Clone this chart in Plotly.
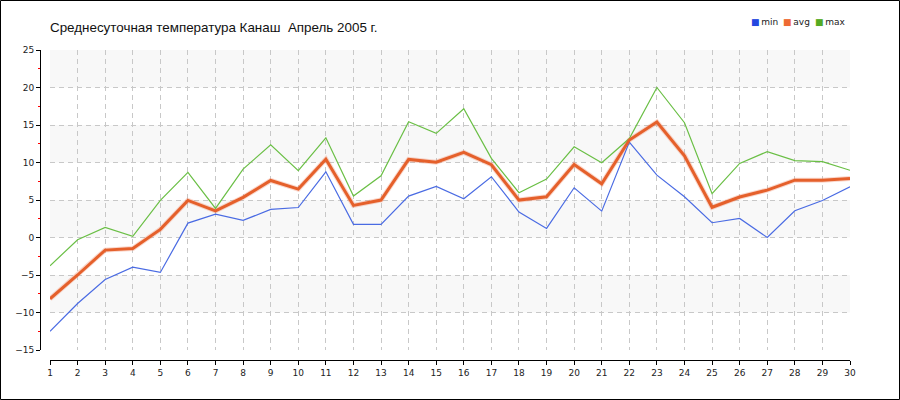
import plotly.graph_objects as go

# ---- data ----
days = list(range(1, 31))
t_min = [-12.5, -8.8, -5.6, -3.95, -4.66, 1.92, 3.12, 2.28, 3.75, 4.0,
         8.76, 1.75, 1.75, 5.52, 6.81, 5.16, 8.1, 3.39, 1.21, 6.63,
         3.52, 12.72, 8.32, 5.43, 1.97, 2.54, 0.0, 3.56, 4.94, 6.77]
t_avg = [-8.17, -5.0, -1.68, -1.46, 1.08, 4.95, 3.56, 5.35, 7.6, 6.45,
         10.45, 4.28, 4.99, 10.41, 10.05, 11.34, 9.7, 4.99, 5.43, 9.74,
         7.16, 13.0, 15.39, 10.9, 4.03, 5.4, 6.32, 7.65, 7.65, 7.87]
t_max = [-3.77, -0.3, 1.35, 0.15, 4.95, 8.68, 3.88, 9.12, 12.36, 8.9,
         13.3, 5.52, 8.23, 15.43, 13.88, 17.16, 10.55, 5.97, 7.79, 12.1,
         9.96, 13.2, 20.0, 15.3, 5.85, 9.88, 11.45, 10.25, 10.12, 8.96]
series_names = ["min", "avg", "max"]
y_ticks = [-15, -10, -5, 0, 5, 10, 15, 20, 25]
title_text = "Среднесуточная температура Канаш \u00a0Апрель 2005 г."

# ---- layout geometry ----
W, H = 900, 400
ML, MR, MT, MB = 40, 50, 50, 40
PW = W - ML - MR
PH = H - MT - MB
OFF = 10  # axis offset in px


def px_x(p):
    return (p - ML) / PW


def px_y(p):
    return (H - MB - p) / PH


c_min, c_avg, c_max = "#4A6BE3", "#E5602B", "#6ABF45"
leg_cols = ["#2447E0", "#EE6A33", "#55AA22"]

fig = go.Figure()

# avg halo
fig.add_trace(go.Scatter(x=days, y=t_avg, mode="lines", showlegend=False,
                         hoverinfo="skip",
                         line=dict(color="rgba(240,140,110,0.35)", width=5)))
fig.add_trace(go.Scatter(x=days, y=t_min, mode="lines", showlegend=False,
                         name="min", line=dict(color=c_min, width=1.2)))
fig.add_trace(go.Scatter(x=days, y=t_max, mode="lines", showlegend=False,
                         name="max", line=dict(color=c_max, width=1.2)))
fig.add_trace(go.Scatter(x=days, y=t_avg, mode="lines", showlegend=False,
                         name="avg", line=dict(color=c_avg, width=3)))

# compact legend (square swatch + label)
annotations = []
leg_x = [749, 781, 813]
for nm, col, lx in zip(series_names, leg_cols, leg_x):
    annotations.append(dict(xref="paper", yref="paper", x=px_x(lx), y=px_y(22),
                            xanchor="left", yanchor="middle", showarrow=False,
                            text=f'<span style="color:{col}">■</span>\u2009{nm}',
                            font=dict(family="DejaVu Sans", size=9, color="#222222")))

# alternating shaded bands
shapes = []
for i in range(len(y_ticks) - 1):
    if (len(y_ticks) - 2 - i) % 2 == 0:
        shapes.append(dict(type="rect", xref="x", yref="y", x0=days[0], x1=days[-1],
                           y0=y_ticks[i], y1=y_ticks[i + 1], layer="below",
                           fillcolor="#F8F8F8", line=dict(width=0)))
# outer border
shapes.append(dict(type="rect", xref="paper", yref="paper",
                   x0=px_x(0.5), x1=px_x(W - 0.5), y0=px_y(H - 0.5), y1=px_y(0.5),
                   line=dict(color="black", width=1), fillcolor="rgba(0,0,0,0)"))

tickfont = dict(family="DejaVu Sans", size=9, color="#222222")

fig.update_layout(
    width=W, height=H,
    margin=dict(l=ML, r=MR, t=MT, b=MB, pad=0, autoexpand=False),
    paper_bgcolor="white", plot_bgcolor="white",
    title=dict(text=title_text, x=50 / W, xanchor="left", y=1 - 27 / H, yanchor="middle",
               font=dict(family="Liberation Sans", size=13.4, color="#111111")),
    showlegend=False,
    annotations=annotations,
    shapes=shapes,
    xaxis=dict(domain=[OFF / PW, 1], range=[days[0], days[-1]], anchor="free", position=0,
               tickmode="array", tickvals=days, ticktext=[str(d) for d in days],
               showline=True, linecolor="black", linewidth=1,
               ticks="outside", ticklen=4, tickcolor="black", tickwidth=1,
               showgrid=True, gridcolor="#C8C8C8", griddash="5px,4px", gridwidth=1,
               zeroline=False, tickfont=tickfont, fixedrange=True),
    yaxis=dict(domain=[OFF / PH, 1], range=[y_ticks[0], y_ticks[-1]], anchor="free", position=0,
               tickmode="array", tickvals=y_ticks,
               showline=True, linecolor="black", linewidth=1,
               ticks="outside", ticklen=4, tickcolor="black", tickwidth=1,
               minor=dict(dtick=2.5, tick0=y_ticks[0], ticks="outside", ticklen=2,
                          tickcolor="red", showgrid=False),
               showgrid=True, gridcolor="#C8C8C8", griddash="5px,4px", gridwidth=1,
               zeroline=False, tickfont=tickfont, fixedrange=True),
)

fig.write_html("out.html", config={"displayModeBar": False},
               post_script="document.body.style.margin='0';document.body.style.overflow='hidden';")
